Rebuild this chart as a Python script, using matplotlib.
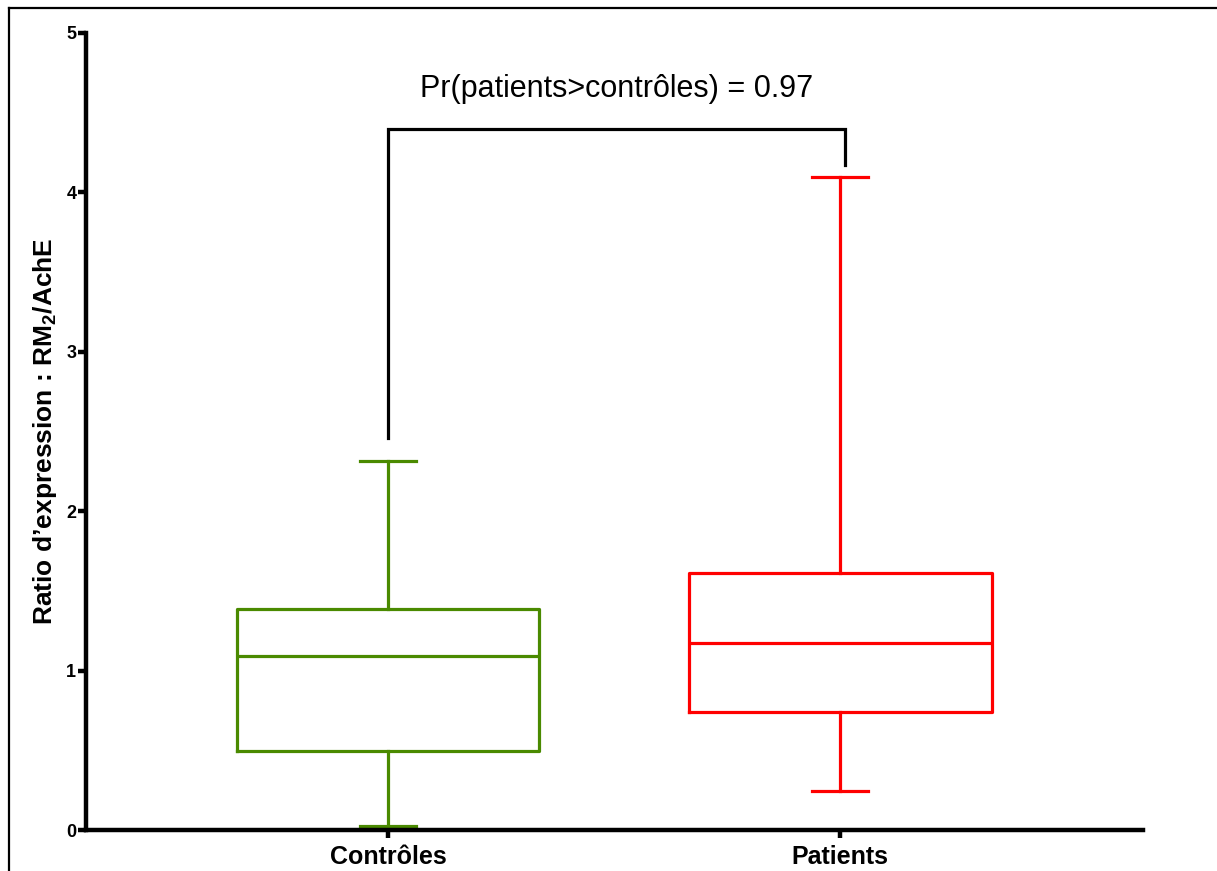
import matplotlib
matplotlib.use("Agg")
import matplotlib.pyplot as plt
from matplotlib.lines import Line2D

plt.rcParams['font.family'] = ['Liberation Sans', 'DejaVu Sans']
plt.rcParams['mathtext.fontset'] = 'custom'
plt.rcParams['mathtext.rm'] = 'Liberation Sans'
plt.rcParams['mathtext.bf'] = 'Liberation Sans:bold'

categories = ['Contrôles', 'Patients']
whisker_low = [0.025, 0.245]
q1 = [0.496, 0.740]
median = [1.092, 1.173]
q3 = [1.386, 1.612]
whisker_high = [2.315, 4.097]
colors = ['#4a8a00', '#ff0000']
annotation = 'Pr(patients>contrôles) = 0.97'
yticks = [0, 1, 2, 3, 4, 5]

fig = plt.figure(figsize=(12.17, 8.71), dpi=100)
ax = fig.add_axes([86/1217, 41/871, (1143-86)/1217, (830-33)/871])

positions = [1, 2]
stats = []
for i, c in enumerate(categories):
    stats.append(dict(label=c, whislo=whisker_low[i], q1=q1[i], med=median[i],
                      q3=q3[i], whishi=whisker_high[i], fliers=[]))

for i in range(len(categories)):
    col = colors[i]
    ax.bxp([stats[i]], positions=[positions[i]], widths=0.67, capwidths=0.125,
           showfliers=False, patch_artist=False,
           boxprops=dict(color=col, linewidth=2.3),
           whiskerprops=dict(color=col, linewidth=2.3),
           capprops=dict(color=col, linewidth=2.3),
           medianprops=dict(color=col, linewidth=2.3))

ax.set_xlim(0.332, 2.67)
ax.set_ylim(0, 5)
ax.set_xticks(positions)
ax.set_xticklabels(categories, fontsize=18, fontweight='bold')
ax.set_yticks(yticks)
ax.set_yticklabels([str(t) for t in yticks], fontsize=13, fontweight='bold')
for s in ['top', 'right']:
    ax.spines[s].set_visible(False)
for s in ['left', 'bottom']:
    ax.spines[s].set_linewidth(3.2)
ax.tick_params(axis='both', width=3.2, length=6, pad=1)
ax.tick_params(axis='x', pad=5)
ax.set_ylabel('Ratio d’expression : RM$_\\mathbf{2}$/AchE', fontsize=19,
              fontweight='bold', labelpad=5)

# bracket
ax.plot([1, 1, 2.01, 2.01], [2.46, 4.40, 4.40, 4.17], color='black',
        linewidth=2.3, solid_joinstyle='miter', clip_on=False)
ax.text(1.505, 4.65, annotation, ha='center', va='center', fontsize=22)

# outer frame
fig.add_artist(Line2D([9/1217, 1], [1 - 8/871, 1 - 8/871], color='black', linewidth=1.6))
fig.add_artist(Line2D([9/1217, 9/1217], [0, 1 - 8/871], color='black', linewidth=1.6))

fig.savefig('out.png', dpi=100)
